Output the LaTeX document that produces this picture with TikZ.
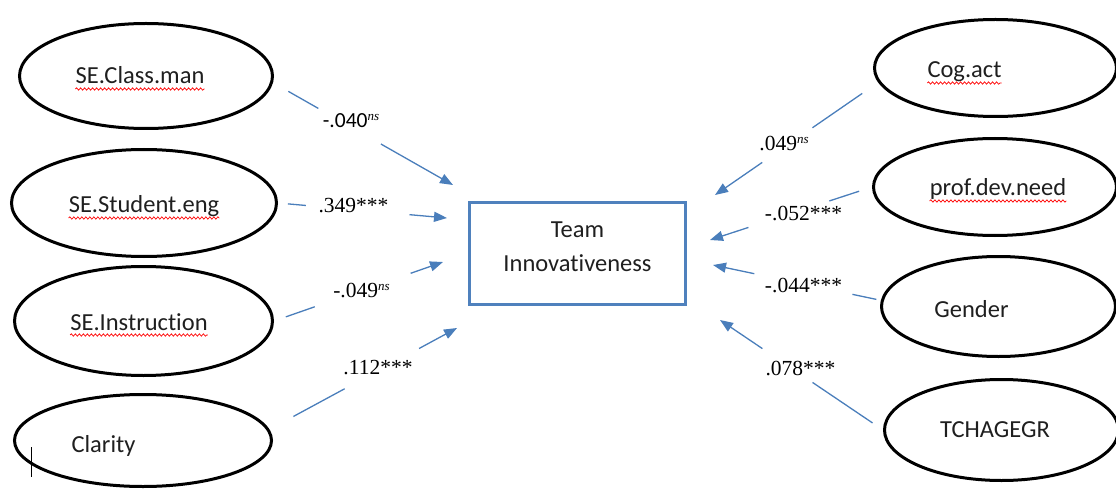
\documentclass[tikz,border=0pt]{standalone}
\usepackage{fontspec}
\setmainfont{Liberation Serif}
\newfontfamily\calfont[Ligatures=NoCommon]{Carlito}
\usetikzlibrary{arrows.meta,shapes.geometric,decorations.pathmorphing,calc}
\definecolor{conncol}{HTML}{4A7EBB}
\definecolor{boxcol}{HTML}{4F81BD}
\tikzset{
  lat/.style={ellipse, draw=black, line width=3pt, inner sep=0pt},
  etext/.style={anchor=base, inner sep=0pt, font=\calfont\fontsize{24.5}{28}\selectfont, text=black!88},
  elab/.style={anchor=base, inner sep=0pt, font=\fontsize{21.5}{24}\selectfont},
  conn/.style={draw=conncol, line width=1.3pt, -{Triangle[length=13pt,width=10pt]}},
  squiggle/.style={draw=red, line width=0.7pt, decorate, decoration={snake, amplitude=1.2pt, segment length=4pt}},
  tbox/.style={rectangle, draw=boxcol, line width=3pt, inner sep=0pt}
}
\newcommand{\nsup}{\raisebox{7pt}{\fontsize{13}{13}\selectfont\itshape ns}}
\begin{document}
\begin{tikzpicture}[x=1pt,y=-1pt]
\useasboundingbox (0,0) rectangle (1116,489);
% left ellipses
\node[lat, minimum width=253pt, minimum height=105pt] (cm) at (146,76) {};
\node[lat, minimum width=265pt, minimum height=107pt] (se) at (144,203) {};
\node[lat, minimum width=258pt, minimum height=109pt] (si) at (143.5,321) {};
\node[lat, minimum width=257pt, minimum height=92pt] (cl) at (143,440.5) {};
% right ellipses
\node[lat, minimum width=242pt, minimum height=97pt] (ca) at (995.5,68) {};
\node[lat, minimum width=243pt, minimum height=97pt] (pd) at (995,187) {};
\node[lat, minimum width=234pt, minimum height=100pt] (ge) at (998.5,306.5) {};
\node[lat, minimum width=234pt, minimum height=101pt] (tc) at (1001.5,430) {};
% central box
\node[tbox, minimum width=216pt, minimum height=102pt] (box) at (577.5,253.5) {};
\node[etext] (boxT1) at (577.5,237) {Team};
\node[etext] (boxT2) at (577.5,271) {Innovativeness};
% ellipse texts
\node[etext] (cmT) at (140,84) {SE.Class.man};
\node[etext] (seT) at (144,213) {SE.Student.eng};
\node[etext] (siT) at (139,330) {SE.Instruction};
\node[etext] (clT) at (103.5,452) {Clarity};
\node[etext] (caT) at (964.5,78) {Cog.act};
\node[etext] (pdT) at (998,196) {prof.dev.need};
\node[etext] (geT) at (971.5,317) {Gender};
\node[etext] (tcT) at (995,437) {TCHAGEGR};
% spell-check squiggles
\foreach \t in {cmT,seT,siT,caT,pdT}
  \draw[squiggle] ($(\t.base west)+(0,5)$) -- ($(\t.base east)+(0,5)$);
% text cursor
\draw[line width=0.8pt] (31,447) -- (31,477);
% arrow targets
\coordinate (t1) at (453,185);
\coordinate (t2) at (447,218);
\coordinate (t3) at (443,262);
\coordinate (t4) at (457,328);
\coordinate (t5) at (715,195);
\coordinate (t6) at (710,240);
\coordinate (t7) at (713,265);
\coordinate (t8) at (720,320);
% connectors
\draw[conn, shorten <=17.6pt, dash pattern=on 34.5pt off 72pt on 2000pt] (cm.-3) -- (t1);
\draw[conn, shorten <=10pt, dash pattern=on 18pt off 104pt on 2000pt] (se.east) -- (t2);
\draw[conn, shorten <=12.5pt, dash pattern=on 30.7pt off 101.5pt on 2000pt] (si.east) -- (t3);
\draw[conn, shorten <=27.3pt, dash pattern=on 58.2pt off 84.6pt on 2000pt] (cl.5) -- (t4);
\draw[conn, shorten <=19.4pt, dash pattern=on 60.5pt off 61pt on 2000pt] (ca.187) -- (t5);
\draw[conn, shorten <=13.6pt, dash pattern=on 31.3pt off 85.1pt on 2000pt] (pd.west) -- (t6);
\draw[conn, shorten <=4.6pt, dash pattern=on 24.5pt off 100.2pt on 2000pt] (ge.177) -- (t7);
\draw[conn, shorten <=12.6pt, dash pattern=on 72.4pt off 60.5pt on 2000pt] (tc.west) -- (t8);
% connector labels
\node[elab] (l1) at (351,128) {{\calfont -.040}\nsup};
\node[elab] (l2) at (353.5,212) {.349***};
\node[elab] (l3) at (361.5,297) {-.049\nsup};
\node[elab] (l4) at (378,374) {.112***};
\node[elab] (l5) at (784,151) {.049\nsup};
\node[elab] (l6) at (803.5,221) {-.052***};
\node[elab] (l7) at (803.5,292) {-.044***};
\node[elab] (l8) at (800.5,375) {.078***};
\end{tikzpicture}
\end{document}
